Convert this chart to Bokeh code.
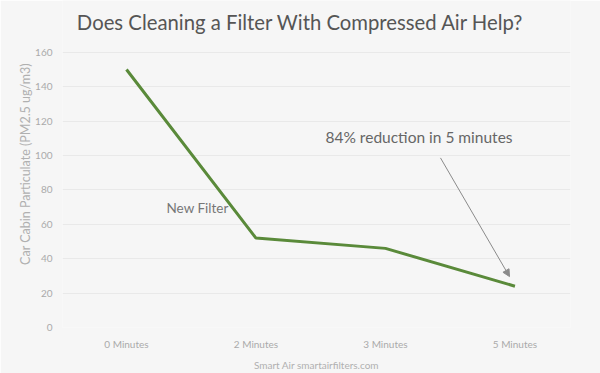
from bokeh.plotting import figure
from bokeh.models import Range1d, FixedTicker, Label, Arrow, NormalHead
from bokeh.embed import file_html
from bokeh.resources import INLINE

categories = ["0 Minutes", "2 Minutes", "3 Minutes", "5 Minutes"]
values = [150, 52, 46, 24]
y_ticks = [0, 20, 40, 60, 80, 100, 120, 140, 160]

FONT = "Lato"
xs = list(range(len(categories)))

# the frame reaches the top edge so the title can sit inside it
p = figure(width=600, height=373, output_backend="svg", toolbar_location=None,
           x_range=Range1d(-0.494, 3.429), y_range=Range1d(0, 190.1),
           min_border_left=62, min_border_right=30, min_border_top=0, min_border_bottom=45)
p.background_fill_color = "#f6f6f6"
p.border_fill_color = "#f6f6f6"
p.outline_line_color = None

p.xgrid.grid_line_color = None
p.ygrid.grid_line_color = "#e9e9e9"
p.ygrid.ticker = FixedTicker(ticks=y_ticks)

p.xaxis.ticker = FixedTicker(ticks=xs)
p.xaxis.major_label_overrides = {i: c for i, c in zip(xs, categories)}
p.yaxis.ticker = FixedTicker(ticks=y_ticks)

for ax in (p.xaxis[0], p.yaxis[0]):
    ax.axis_line_color = None
    ax.major_tick_line_color = None
    ax.minor_tick_line_color = None
    ax.major_tick_out = 0
    ax.major_tick_in = 0
    ax.minor_tick_out = 0
    ax.minor_tick_in = 0
    ax.major_label_text_font = FONT
    ax.major_label_text_font_size = "10px"
    ax.major_label_text_color = "#aaaaaa"
    ax.axis_label_text_font = FONT
    ax.axis_label_text_font_style = "normal"
    ax.axis_label_text_color = "#b0b0b0"

p.xaxis.axis_label = "Smart Air smartairfilters.com"
p.xaxis.axis_label_text_font_size = "10px"
p.xaxis.major_label_standoff = 10
p.xaxis.axis_label_standoff = 6
p.yaxis.axis_label = "Car Cabin Particulate (PM2.5 ug/m3)"
p.yaxis.axis_label_text_font_size = "12.5px"
p.yaxis.major_label_standoff = 10
p.yaxis.axis_label_standoff = -1

p.add_layout(Label(x=1.344, y=177.4,
                   text="Does Cleaning a Filter With Compressed Air Help?",
                   text_font=FONT, text_font_size="20.3px", text_color="#555555",
                   text_align="center", text_baseline="middle"))

p.line(xs, values, line_color="#5a8a3a", line_width=3)

p.add_layout(Label(x=1.537, y=110.7, text="84% reduction in 5 minutes",
                   text_font=FONT, text_font_size="15.5px", text_color="#666666",
                   text_baseline="middle"))
p.add_layout(Label(x=0.309, y=69.7, text="New Filter",
                   text_font=FONT, text_font_size="13.5px", text_color="#777777",
                   text_baseline="middle"))
p.add_layout(Arrow(x_start=2.425, y_start=98.6, x_end=2.958, y_end=29.6,
                   line_color="#8a8a8a", line_width=1,
                   end=NormalHead(size=7, fill_color="#8a8a8a", line_color="#8a8a8a")))

open("out.html", "w").write(file_html(p, INLINE))
